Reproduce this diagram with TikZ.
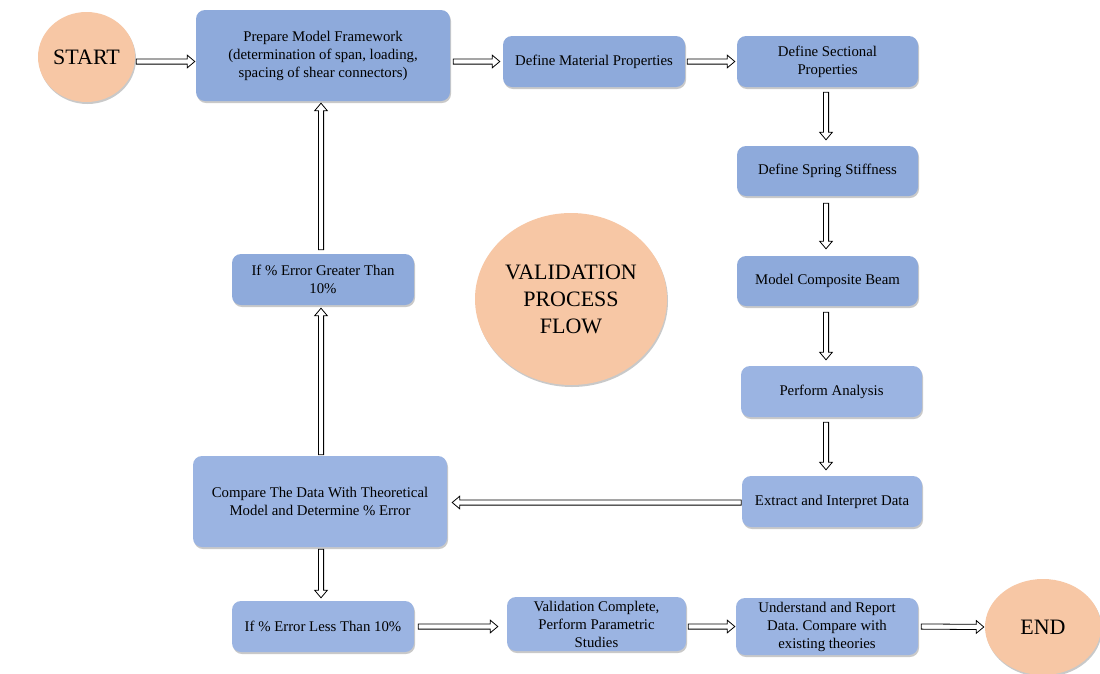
\documentclass[tikz,border=0pt]{standalone}
\usepackage{fontspec}
\setmainfont{Liberation Serif}
\frenchspacing
\usetikzlibrary{calc,shapes.geometric,shadows}
\definecolor{boxblue}{HTML}{8EAADB}
\definecolor{boxpale}{HTML}{9BB4E2}
\definecolor{peach}{HTML}{F7C7A5}
\newcommand\flowga{3pt}
\newcommand\flowgb{3pt}
\tikzset{
  shade3/.style={drop shadow={shadow xshift=1pt,shadow yshift=-2pt,opacity=0.35,fill=black!60}},
  stepbox/.style={rectangle,rounded corners=9pt,fill=boxblue,shade3,align=center,
    font=\fontsize{14.8}{18}\selectfont,inner sep=3pt},
  palebox/.style={stepbox,fill=boxpale},
  oval/.style={ellipse,fill=peach,shade3,align=center,inner sep=0pt,
    font=\fontsize{22}{27}\selectfont},
  gaps/.code 2 args={\def\flowga{#1}\def\flowgb{#2}},
  % hollow block arrow: straight shaft with a triangular head
  flow/.style={draw=black,line width=0.8pt,fill=white,line join=miter,
    to path={
      ($(\tikztostart)!\flowga!(\tikztotarget)$) coordinate (fS)
      ($(\tikztotarget)!\flowgb!(\tikztostart)$) coordinate (fE)
      ($(fE)!7.5pt!(fS)$) coordinate (fN)
      ($(fS)!2.6pt!90:(fE)$) -- ($(fN)!2.6pt!90:(fE)$) -- ($(fN)!6.3pt!90:(fE)$)
      -- (fE) -- ($(fN)!6.3pt!-90:(fE)$) -- ($(fN)!2.6pt!-90:(fE)$)
      -- ($(fS)!2.6pt!-90:(fE)$) -- cycle}}
}
\begin{document}
\begin{tikzpicture}[x=1pt,y=-1pt]
\useasboundingbox (0,0) rectangle (1100,673);
\clip (0,0) rectangle (1100,673);
\fill[white] (0,0) rectangle (1100,673);

% terminals and title
\node[oval,minimum width=97pt,minimum height=90pt] (start) at (86.5,57) {START};
\node[oval,minimum width=116pt,minimum height=96pt] (end) at (1043,627) {END};
\node[oval,minimum width=192pt,minimum height=172pt] (title) at (571,299)
  {VALIDATION\\PROCESS\\FLOW};

% process steps
\node[stepbox,minimum width=254pt,minimum height=91pt] (pmf) at (323,55.5)
  {Prepare Model Framework\\(determination of span, loading,\\spacing of shear connectors)};
\node[stepbox,minimum width=182pt,minimum height=51pt] (dmp) at (594,61.5)
  {Define Material Properties};
\node[stepbox,minimum width=181pt,minimum height=51pt] (dsp) at (827.5,61.5)
  {Define Sectional\\Properties};
\node[stepbox,minimum width=181pt,minimum height=50pt] (dss) at (827.5,171)
  {Define Spring Stiffness};
\node[stepbox,minimum width=181pt,minimum height=50pt] (mcb) at (827.5,281)
  {Model Composite Beam};
\node[palebox,minimum width=181pt,minimum height=51pt] (pa) at (831.5,391.5)
  {Perform Analysis};
\node[palebox,minimum width=180pt,minimum height=51pt] (eid) at (832,501.5)
  {Extract and Interpret Data};
\node[palebox,minimum width=254pt,minimum height=91pt] (cmp) at (320,501.5)
  {Compare The Data With Theoretical\\Model and Determine \% Error};
\node[stepbox,minimum width=182pt,minimum height=51pt] (igt) at (323,279.5)
  {If \% Error Greater Than\\10\%};
\node[palebox,minimum width=182pt,minimum height=51pt] (ilt) at (323,626.5)
  {If \% Error Less Than 10\%};
\node[palebox,minimum width=179pt,minimum height=54pt] (vc) at (596.5,624)
  {Validation Complete,\\Perform Parametric\\Studies};
\node[palebox,minimum width=182pt,minimum height=57pt] (urd) at (827,626.5)
  {Understand and Report\\Data. Compare with\\existing theories};

% connectors
\path[flow,gaps={1pt}{1pt}] (start.east |- dmp) to (pmf.west |- dmp);
\path[flow,gaps={3pt}{3pt}] (pmf.east |- dmp) to (dmp.west);
\path[flow,gaps={2pt}{2pt}] (dmp.east) to (dsp.west);
\path[flow,gaps={5pt}{6pt}] ([xshift=-1.5pt]dsp.south) to ([xshift=-1.5pt]dss.north);
\path[flow,gaps={7pt}{7pt}] ([xshift=-1.5pt]dss.south) to ([xshift=-1.5pt]mcb.north);
\path[flow,gaps={6pt}{6pt}] ([xshift=-1.5pt]mcb.south) to ([xshift=-1.5pt]mcb.south |- pa.north);
\path[flow,gaps={5pt}{6pt}] ([xshift=-1.5pt]pa.south -| mcb) to ([xshift=-1.5pt]eid.north -| mcb);
\path[flow,gaps={0.5pt}{5pt}] ([yshift=-1pt]eid.west) to ([yshift=-1pt]cmp.east |- eid);
\path[flow,gaps={1pt}{3pt}] ([xshift=1pt]cmp.north) to ([xshift=1pt]igt.south -| cmp);
\path[flow,gaps={4pt}{2pt}] ([xshift=1pt]igt.north -| cmp) to ([xshift=1pt]pmf.south -| cmp);
\path[flow,gaps={2pt}{3pt}] ([xshift=1pt]cmp.south) to ([xshift=1pt]ilt.north -| cmp);
\path[flow,gaps={4pt}{9pt}] (ilt.east) to (vc.west |- ilt);
\path[flow,gaps={2pt}{1pt}] (vc.east |- urd) to (urd.west);
\path[flow,gaps={3pt}{1pt}] (urd.east) to (end.west);
\end{tikzpicture}
\end{document}
